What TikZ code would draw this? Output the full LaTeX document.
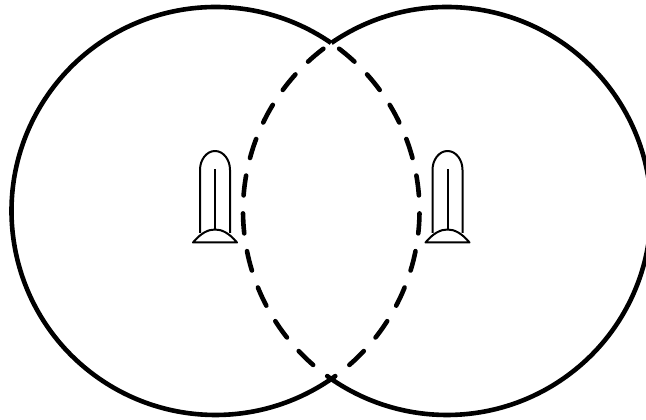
\documentclass[tikz,border=0pt]{standalone}
\tikzset{
  solidarc/.style={line width=4.6pt,line join=miter},
  dashedarc/.style={line width=4.6pt,line cap=round,dash pattern=on 20pt off 18pt,dash phase=28pt},
  bell/.style={line width=2pt,line join=round}
}
\newcommand{\bellshape}[1]{%
  \begin{scope}[xshift=#1pt]
    \draw[bell] (-15,187) -- (-15,250) arc[start angle=180,end angle=0,x radius=15,y radius=19] -- (15,187);
    \draw[bell] (0,190) -- (0,251);
    \draw[bell] (-22,177.5) .. controls (-14,187) and (-7,190.5) .. (0,190.5)
       .. controls (7,190.5) and (14,187) .. (22,177.5) -- cycle;
  \end{scope}}
\begin{document}
\begin{tikzpicture}[x=1pt,y=1pt]
  \useasboundingbox (0,0) rectangle (646,420);
  \begin{scope}
    \clip (0,0) rectangle (646,420);
    \draw[solidarc] (215.5,209) ++(55.5:204) arc[start angle=55.5,end angle=304.5,radius=204];
    \draw[solidarc] (447,209) ++(124.5:204) arc[start angle=124.5,end angle=-124.5,radius=204];
    \draw[dashedarc] (215.5,209) ++(55.5:204) arc[start angle=55.5,end angle=-55.5,radius=204];
    \draw[dashedarc] (447,209) ++(124.5:204) arc[start angle=124.5,end angle=235.5,radius=204];
  \end{scope}
  \bellshape{215}
  \bellshape{447.5}
\end{tikzpicture}
\end{document}
